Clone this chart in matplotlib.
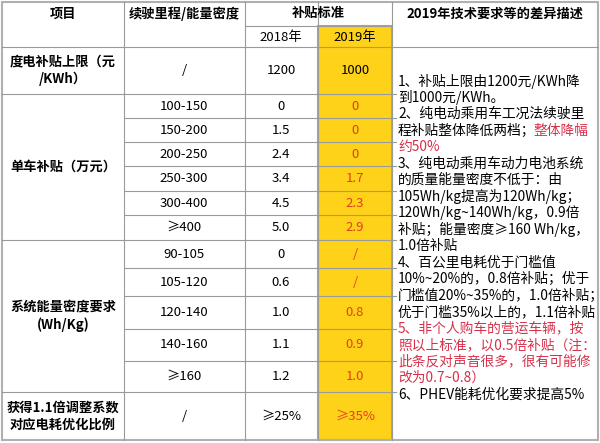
import matplotlib
matplotlib.use("Agg")
import matplotlib.pyplot as plt
from matplotlib.patches import Rectangle

plt.rcParams["font.family"] = "Noto Sans CJK SC"

headers = ["项目", "续驶里程/能量密度", "补贴标准", "2019年技术要求等的差异描述"]
years = ["2018年", "2019年"]
groups = ["度电补贴上限（元\n/KWh）", "单车补贴（万元）", "系统能量密度要求\n(Wh/Kg)", "获得1.1倍调整系数\n对应电耗优化比例"]
ranges = ["/", "100-150", "150-200", "200-250", "250-300", "300-400", "≥400",
          "90-105", "105-120", "120-140", "140-160", "≥160", "/"]
v2018 = ["1200", "0", "1.5", "2.4", "3.4", "4.5", "5.0", "0", "0.6", "1.0", "1.1", "1.2", "≥25%"]
v2019 = ["1000", "0", "0", "0", "1.7", "2.3", "2.9", "/", "/", "0.8", "0.9", "1.0", "≥35%"]

fig = plt.figure(figsize=(6, 4.43), dpi=100)
ax = fig.add_axes([0, 0, 1, 1])
ax.set_xlim(0, 600); ax.set_ylim(443, 0); ax.axis("off")

xs = [2, 124, 245, 318, 392, 598]
rows = [47, 94, 118, 142, 166, 191, 215, 240, 268, 296, 329, 361, 392, 440]
grid = "#9a9a9a"
ax.add_patch(Rectangle((0, 0), 600, 443, facecolor="white", edgecolor="none"))
ax.add_patch(Rectangle((318, 26), 74, 414, facecolor="#ffd21a", edgecolor="#e8a200", lw=1.5, zorder=2))
ax.add_patch(Rectangle((2, 2), 596, 438, facecolor="none", edgecolor="#b0b0b0", lw=1.5, zorder=3))

def hl(y, x0, x1): ax.plot([x0, x1], [y, y], color=grid, lw=0.8, zorder=3)
def vl(x, y0, y1): ax.plot([x, x], [y0, y1], color=grid, lw=0.8, zorder=3)
for x in xs[1:5]:
    vl(x, 2, 440)
hl(26, 245, 392)
hl(47, 2, 598)
for y in rows[1:-1]:
    hl(y, 124, 392); hl(y, 392, 396)
for y in [94, 240, 392]:
    hl(y, 2, 124)

fs = 9.5
ax.text(63, 14, headers[0], ha="center", va="center", fontsize=fs, weight="bold")
ax.text(184, 14, headers[1], ha="center", va="center", fontsize=fs, weight="bold")
ax.text(318, 13, headers[2], ha="center", va="center", fontsize=fs, weight="bold")
ax.text(495, 14, headers[3], ha="center", va="center", fontsize=fs, weight="bold")
ax.text(281, 37, years[0], ha="center", va="center", fontsize=fs)
ax.text(355, 37, years[1], ha="center", va="center", fontsize=fs, zorder=4)

gy = [(47, 94), (94, 240), (240, 392), (392, 440)]
for g, (a, b) in zip(groups, gy):
    ax.text(63, (a + b) / 2, g, ha="center", va="center", fontsize=fs, weight="bold", linespacing=1.3)
for i in range(13):
    yc = (rows[i] + rows[i + 1]) / 2
    ax.text(184, yc, ranges[i], ha="center", va="center", fontsize=fs)
    ax.text(281, yc, v2018[i], ha="center", va="center", fontsize=fs)
    ax.text(355, yc, v2019[i], ha="center", va="center", fontsize=fs, color="#e0401a" if i > 0 else "k", zorder=4)

red = "#d8304a"
lines = [
    ("1、补贴上限由1200元/KWh降", "k"),
    ("到1000元/KWh。", "k"),
    ("2、纯电动乘用车工况法续驶里", "k"),
    ("程补贴整体降低两档；", "k", "整体降幅"),
    ("约50%", red),
    ("3、纯电动乘用车动力电池系统", "k"),
    ("的质量能量密度不低于：由", "k"),
    ("105Wh/kg提高为120Wh/kg；", "k"),
    ("120Wh/kg~140Wh/kg，0.9倍", "k"),
    ("补贴；能量密度≥160 Wh/kg，", "k"),
    ("1.0倍补贴", "k"),
    ("4、百公里电耗优于门槛值", "k"),
    ("10%~20%的，0.8倍补贴；优于", "k"),
    ("门槛值20%~35%的，1.0倍补贴；", "k"),
    ("优于门槛35%以上的，1.1倍补贴", "k"),
    ("5、非个人购车的营运车辆，按", red),
    ("照以上标准，以0.5倍补贴（注：", red),
    ("此条反对声音很多，很有可能修", red),
    ("改为0.7~0.8）", red),
    ("6、PHEV能耗优化要求提高5%", "k"),
]
y0, dy = 81, 16.5
for k, ln in enumerate(lines):
    y = y0 + k * dy
    ax.text(398, y, ln[0], ha="left", va="center", fontsize=9.9, color=ln[1])
    if len(ln) == 3:
        ax.text(533, y, ln[2], ha="left", va="center", fontsize=9.9, color=red)

fig.savefig("out.png", dpi=100)
